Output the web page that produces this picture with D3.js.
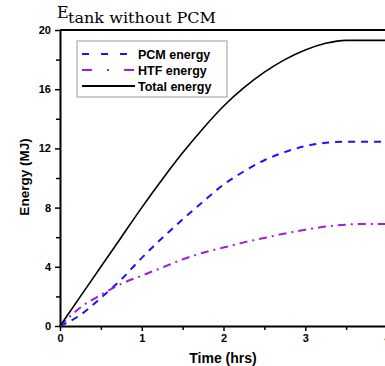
<!DOCTYPE html>
<html>
<head>
<meta charset="utf-8">
<script src="https://cdn.jsdelivr.net/npm/d3@7"></script>
<style>
  body { margin: 0; background: #fff; }
  svg { display: block; }
  .tick text { font-family: Arial, "Liberation Sans", sans-serif; font-weight: bold; font-size: 11px; fill: #000; }
</style>
</head>
<body>
<svg id="chart" width="385" height="366"></svg>
<script>
// values
const time = [0, 0.25, 0.5, 0.75, 1, 1.25, 1.5, 1.75, 2, 2.25, 2.5, 2.75, 3, 3.25, 3.5, 3.75, 4];
const pcmEnergy = [0, 0.75, 1.9, 3.15, 4.6, 5.95, 7.2, 8.4, 9.55, 10.45, 11.2, 11.75, 12.15, 12.38, 12.45, 12.45, 12.45];
const htfEnergy = [0, 1.25, 2.1, 2.85, 3.4, 3.95, 4.5, 4.95, 5.3, 5.65, 5.95, 6.25, 6.5, 6.72, 6.85, 6.9, 6.9];
const totalEnergy = [0, 2.0, 4.0, 6.0, 8.0, 9.9, 11.7, 13.35, 14.85, 16.1, 17.15, 18.0, 18.65, 19.1, 19.3, 19.3, 19.3];
const xTicks = [0, 1, 2, 3, 4];
const yTicks = [0, 4, 8, 12, 16, 20];
const seriesNames = ["PCM energy", "HTF energy", "Total energy"];

const svg = d3.select("#chart");
const margin = { left: 60, top: 30, bottom: 326, right: 387 };

const x = d3.scaleLinear().domain([0, 4]).range([margin.left, margin.right]);
const y = d3.scaleLinear().domain([0, 20]).range([margin.bottom, margin.top]);

// minor ticks
svg.append("g")
  .attr("transform", `translate(0,${margin.bottom})`)
  .call(d3.axisBottom(x).tickValues(d3.range(0.5, 4, 1)).tickSize(4).tickFormat(""))
  .call(g => g.select(".domain").remove())
  .selectAll("line").attr("stroke-width", 1.5);
svg.append("g")
  .attr("transform", `translate(${margin.left},0)`)
  .call(d3.axisLeft(y).tickValues(d3.range(2, 20, 4)).tickSize(4).tickFormat(""))
  .call(g => g.select(".domain").remove())
  .selectAll("line").attr("stroke-width", 1.5);

const xAxis = svg.append("g")
  .attr("transform", `translate(0,${margin.bottom})`)
  .call(d3.axisBottom(x).tickValues(xTicks).tickFormat(d3.format("d")).tickSize(5).tickSizeOuter(0).tickPadding(3));
xAxis.select(".domain").attr("stroke-width", 2);
xAxis.selectAll(".tick line").attr("stroke-width", 1.5);

const yAxis = svg.append("g")
  .attr("transform", `translate(${margin.left},0)`)
  .call(d3.axisLeft(y).tickValues(yTicks).tickFormat(d3.format("d")).tickSize(5).tickSizeOuter(0).tickPadding(4));
yAxis.select(".domain").attr("stroke-width", 2);
yAxis.selectAll(".tick line").attr("stroke-width", 1.5);

// top frame
svg.append("line")
  .attr("x1", margin.left).attr("x2", 385)
  .attr("y1", y(20)).attr("y2", y(20))
  .attr("stroke", "#000").attr("stroke-width", 2);

// series
const styles = [
  { values: pcmEnergy, color: "#1515ff", dash: "7,6", width: 2 },
  { values: htfEnergy, color: "#a01ed8", dash: "8,5,2,5", width: 2 },
  { values: totalEnergy, color: "#000", dash: null, width: 1.6 }
];
const line = d3.line().x(d => x(d[0])).y(d => y(d[1])).curve(d3.curveMonotoneX);

styles.forEach(s => {
  svg.append("path")
    .datum(time.map((t, i) => [t, s.values[i]]))
    .attr("fill", "none")
    .attr("stroke", s.color)
    .attr("stroke-width", s.width)
    .attr("stroke-dasharray", s.dash)
    .attr("d", line);
});

// legend
const legend = svg.append("g").attr("transform", "translate(77,41)");
legend.append("rect")
  .attr("width", 150).attr("height", 56)
  .attr("fill", "#fff").attr("stroke", "#999").attr("stroke-width", 1);
seriesNames.forEach((name, i) => {
  const yy = 13 + i * 16;
  legend.append("line")
    .attr("x1", 5).attr("x2", 58).attr("y1", yy).attr("y2", yy)
    .attr("stroke", styles[i].color)
    .attr("stroke-width", 2)
    .attr("stroke-dasharray", i === 0 ? "7,12" : i === 1 ? "10,15,2,15" : null);
  legend.append("text")
    .attr("x", 61).attr("y", yy + 4.5)
    .attr("font-family", "Arial, 'Liberation Sans', sans-serif")
    .attr("font-weight", "bold").attr("font-size", 12.5)
    .text(name);
});

// axis titles
svg.append("text")
  .attr("x", 223).attr("y", 363)
  .attr("text-anchor", "middle")
  .attr("font-family", "Arial, 'Liberation Sans', sans-serif")
  .attr("font-weight", "bold").attr("font-size", 14)
  .text("Time (hrs)");
svg.append("text")
  .attr("transform", "translate(29,177) rotate(-90)")
  .attr("text-anchor", "middle")
  .attr("font-family", "Arial, 'Liberation Sans', sans-serif")
  .attr("font-weight", "bold").attr("font-size", 13.5)
  .text("Energy (MJ)");

// title with subscript
const title = svg.append("text")
  .attr("x", 57).attr("y", 18)
  .attr("font-family", "'DejaVu Serif', 'Liberation Serif', serif");
title.append("tspan").attr("font-size", 16).text("E");
title.append("tspan").attr("x", 68).attr("y", 23).attr("font-size", 14.5)
  .attr("textLength", 148).attr("lengthAdjust", "spacingAndGlyphs")
  .text("tank without PCM");
</script>
</body>
</html>
